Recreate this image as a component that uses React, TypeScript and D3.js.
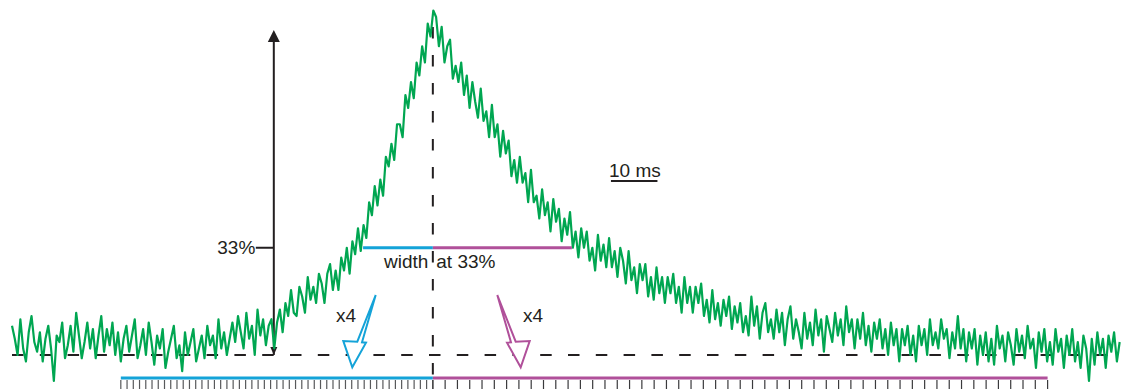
import React from "react";
import * as d3 from "d3";

// ---- data: green trace, % of peak amplitude, one value per sample ----
const sampleIntervalMs = 0.6;
const traceBaseline = [
  9, 5, 0, 11, 2, -2, 7, 12, 4, 1,
  7, -2, 5, 9, 2, -8, 6, 4, 10, -1,
  3, 9, 1, 13, 6, -1, 4, 10, 2, 8,
  -1, 6, 12, 1, 8, 3, 10, 0, 7, -2,
  5, 9, 1, 6, 11, -1, 3, 8, 0, 10,
  4, -3, 6, 2, 8, -4, 1, 5, 9, -1,
  3, -5, 7, 0, 4, 8, -2, 2, 6, -1,
  9, 3, 6, -1, 11, 2, 7, 0, 5, 10,
  4, 12, 7, 2, 13, 5, 9, 0, 14, 6,
  11, 3, 9,
];
const traceRise = [
  11, 2, 10, 14, 7, 16, 12, 20, 13, 12,
  21, 18, 13, 24, 17, 21, 16, 25, 22, 16,
  25, 28, 20, 26, 20, 30, 26, 33, 25, 35,
  31, 39, 32, 40, 36, 47, 43, 52, 46, 54,
  49, 61, 58, 65, 60, 71, 71, 67, 80, 76,
  84, 79, 90, 86, 95, 90, 102, 98, 106,
];
const traceDecay = [
  104, 95, 101, 90, 95, 97, 85, 89, 84, 90,
  80, 86, 76, 84, 78, 73, 82, 72, 75, 67,
  77, 67, 71, 61, 69, 62, 66, 55, 60, 53,
  61, 53, 56, 47, 57, 47, 49, 42, 51, 43,
  47, 38, 48, 41, 45, 35, 42, 37, 44, 33,
  38, 30, 39, 33, 38, 29, 33, 26, 37, 29,
  34, 27, 36, 27, 32, 24, 33, 29, 22, 32,
  23, 27, 19, 28, 23, 28, 18, 24, 17, 27,
  19, 24, 16, 24, 19, 25, 16, 21, 13, 24,
  16, 21, 13, 21, 16, 22, 12, 17, 10, 20,
  11, 16, 9, 17, 12, 18, 8, 15, 10,
];
const traceTail = [
  16, 7, 12, 6, 18, 9, 15, 5, 13, 16,
  7, 11, 5, 14, 7, 13, 3, 11, 15, 5,
  11, 7, 2, 13, 5, 10, 3, 14, 6, 11,
  1, 12, 8, 4, 13, 6, 11, 3, 15, 7,
  11, 2, 11, 5, 13, 3, 9, 1, 10, 5,
  11, 2, 8, 0, 10, 3, 8, -2, 8, 3,
  9, 0, 6, -2, 9, 3, 8, 0, 11, 3,
  7, 2, 11, 5, 8, -1, 7, 2, 12, 2,
  8, -2, 7, 2, 8, -3, 6, 0, 7, -2,
  5, -3, 9, 2, 6, -2, 7, 3, -3, 8,
  1, 6, -1, 9, 2, 5, -4, 7, 1, 8,
  -2, 4, -3, 8, 1, 5, -4, 6, 0, 8,
  -2, 4, -4, 6, 2, -8, 5, -3, 7, 0,
  5, -4, 6, 1, 7, -2, 4,
];
const trace = [...traceBaseline, ...traceRise, ...traceDecay, ...traceTail];

// ---- annotation values (ms / %) ----
const timeDomainMs = [0, 238.7];
const peakTimeMs = 90.5;
const amplitudeArrowMs = 56.3;
const widthLevelPct = 33;
const widthStartMs = 75.5;
const widthEndMs = 120.4;
const binStartMs = 23.4;
const binEndMs = 222.7;
const binsBefore = 50;
const binsAfter = 50;
const scaleBarStartMs = 128.8;
const scaleBarLengthMs = 10;

const labelLevel = "33%";
const labelWidthA = "width";
const labelWidthB = " at 33%";
const labelScale = "10 ms";
const labelFactor = "x4";

const W = 1124;
const H = 389;
const GREEN = "#00a651";
const BLUE = "#14a3d8";
const MAGENTA = "#b0509a";
const INK = "#231f20";
const FONT = "'Liberation Sans', Arial, Helvetica, sans-serif";
const FS = 19;

const x = d3.scaleLinear().domain(timeDomainMs).range([12, 1122]);
const y = d3.scaleLinear().domain([0, 100]).range([355, 30]);

function hollowArrow(tipX: number, tipY: number, dir: number) {
  const pts: [number, number][] = [
    [23.4, -72.3],
    [5, -25.6],
    [-9, -26.3],
    [0, 0],
    [13.7, -24.6],
    [9.7, -25],
  ];
  return pts.map(([dx, dy]) => `${tipX + dir * dx},${tipY + dy}`).join(" ");
}

export default function App() {
  const line = d3
    .line<number>()
    .x((_, i) => x(i * sampleIntervalMs))
    .y((d) => y(d));
  const tracePath = line(trace) || "";

  const barY = 378;
  const ticksBefore = d3
    .range(binsBefore + 1)
    .map((k) => binStartMs + (k * (peakTimeMs - binStartMs)) / binsBefore);
  const ticksAfter = d3
    .range(binsAfter + 1)
    .map((k) => peakTimeMs + (k * (binEndMs - peakTimeMs)) / binsAfter);

  const ax = x(amplitudeArrowMs);
  const px = x(peakTimeMs);
  const wy = y(widthLevelPct);

  return (
    <svg
      width={W}
      height={H}
      style={{ position: "absolute", left: 0, top: 0, background: "#fff" }}
      fontFamily={FONT}
    >
      <rect x={0} y={0} width={W} height={H} fill="#fff" />
      {ticksBefore.map((t, i) => (
        <line key={"tb" + i} x1={x(t)} x2={x(t)} y1={380} y2={390} stroke="#58595b" strokeWidth={1.2} />
      ))}
      {ticksAfter.map((t, i) => (
        <line key={"ta" + i} x1={x(t)} x2={x(t)} y1={380} y2={390} stroke="#3a3a3c" strokeWidth={1.2} />
      ))}
      <line x1={x(binStartMs)} x2={px} y1={barY} y2={barY} stroke={BLUE} strokeWidth={3} />
      <line x1={px} x2={x(binEndMs)} y1={barY} y2={barY} stroke={MAGENTA} strokeWidth={3} />

      <line x1={x(0)} x2={x(timeDomainMs[1])} y1={y(0)} y2={y(0)} stroke={INK} strokeWidth={2} strokeDasharray="11.5 16.3" />
      <line x1={px} x2={px} y1={27} y2={barY} stroke={INK} strokeWidth={2} strokeDasharray="11.5 16.5" />

      <line x1={ax} x2={ax} y1={y(0)} y2={y(100) + 8} stroke={INK} strokeWidth={2} />
      <polygon points={`${ax},${y(100)} ${ax - 6},${y(100) + 12} ${ax + 6},${y(100) + 12}`} fill={INK} />
      <polygon points={`${ax},${y(0)} ${ax - 3.5},${y(0) - 8} ${ax + 3.5},${y(0) - 8}`} fill={INK} />
      <line x1={ax - 18} x2={ax} y1={wy} y2={wy} stroke={INK} strokeWidth={2} />
      <text x={ax - 18.5} y={wy + 6.5} textAnchor="end" fontSize={FS} fill={INK}>
        {labelLevel}
      </text>

      <polygon points={hollowArrow(352.3, 367.3, 1)} fill="#fff" stroke={BLUE} strokeWidth={2} />
      <polygon points={hollowArrow(520.7, 367.3, -1)} fill="#fff" stroke={MAGENTA} strokeWidth={2} />
      <text x={336} y={322} fontSize={FS} fill={INK}>
        {labelFactor}
      </text>
      <text x={523} y={322} fontSize={FS} fill={INK}>
        {labelFactor}
      </text>

      <text x={609} y={177} fontSize={FS} fill={INK}>
        {labelScale}
      </text>
      <line x1={x(scaleBarStartMs)} x2={x(scaleBarStartMs + scaleBarLengthMs)} y1={181} y2={181} stroke={INK} strokeWidth={2} />

      <path d={tracePath} fill="none" stroke={GREEN} strokeWidth={2.2} strokeLinejoin="round" />

      <line x1={x(widthStartMs)} x2={px} y1={wy} y2={wy} stroke={BLUE} strokeWidth={3} />
      <line x1={px} x2={x(widthEndMs)} y1={wy} y2={wy} stroke={MAGENTA} strokeWidth={3} />
      <text x={384} y={268} fontSize={FS} fill={INK}>
        {labelWidthA}
        <tspan x={431}>{labelWidthB}</tspan>
      </text>
    </svg>
  );
}
